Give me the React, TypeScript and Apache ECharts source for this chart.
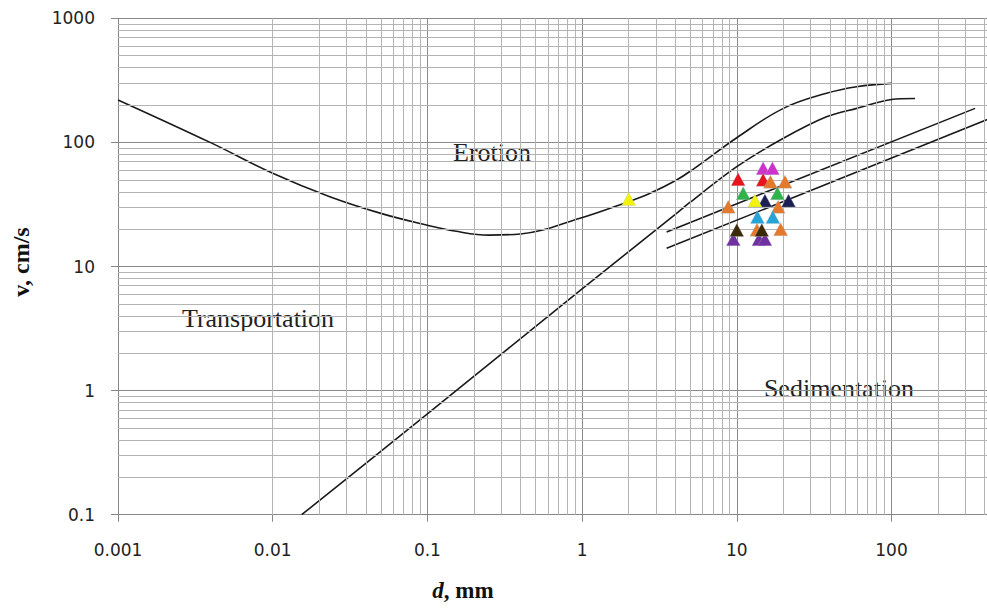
import React, { useEffect, useRef } from 'react';
import * as echarts from 'echarts';

// Erosion (upper Hjulström) curve
const erosionD = [0.001, 0.00394, 0.01, 0.0234, 0.05, 0.1, 0.15, 0.25, 0.4, 0.97, 1.99, 2.75, 4.08, 5.24, 10, 20, 38, 59.6, 100];
const erosionV = [220, 100, 56.4, 36.5, 26.8, 21.5, 19.3, 17.9, 18.3, 24.5, 33.3, 38.9, 49.8, 61, 109, 188, 249, 281, 299];

// Settling / deposition curve
const settleD = [0.0154, 0.1, 1, 4.08, 5.0, 10, 20, 38, 59.6, 100, 142];
const settleV = [0.1, 0.65, 6.6, 26.8, 33, 63.7, 108, 161, 188, 222, 226];

// Two straight band lines
const bandUpperD = [3.52, 347];
const bandUpperV = [19, 188];
const bandLowerD = [3.52, 520];
const bandLowerV = [14, 171];

// Measured samples (triangles), in drawing order
const sampleD = [14.8, 17.0, 9.5, 13.9, 15.2, 10.2, 14.8, 16.5, 20.5, 11, 18.3, 8.8, 18.5, 15.2, 21.6, 13.1, 13.6, 17.1, 13.5, 19.2, 10, 14.5, 2];
const sampleV = [62, 62, 16.6, 16.6, 16.6, 50.5, 50, 48.2, 48.2, 39, 39, 30.3, 30.3, 34, 34, 34, 25, 25, 19.8, 20, 19.7, 19.7, 35];
const sampleColor = [
  '#cc33cc', '#cc33cc',
  '#7030a0', '#7030a0', '#7030a0',
  '#e8141b', '#e8141b',
  '#e4782b', '#e4782b',
  '#2fb34a', '#2fb34a',
  '#e4782b', '#e4782b',
  '#1c1f52', '#1c1f52',
  '#f2f20a',
  '#26a4d8', '#26a4d8',
  '#e4782b', '#e4782b',
  '#3a2a08', '#3a2a08',
  '#f2f20a',
];

const xTickValues = [0.001, 0.01, 0.1, 1, 10, 100, 1000];
const xTickLabels = ['0.001', '0.01', '0.1', '1', '10', '100', ''];
const yTickValues = [0.1, 1, 10, 100, 1000];
const yTickLabels = ['0.1', '1', '10', '100', '1000'];
const regionLabels = ['Erotion', 'Transportation', 'Sedimentation'];

const labelFor = (values: number[], labels: string[]) => (v: number) => {
  const i = values.findIndex((t) => Math.abs(Math.log10(t) - Math.log10(v)) < 1e-6);
  return i >= 0 ? labels[i] : '';
};

function minorValues(ticks: number[]) {
  const out: number[] = [];
  for (let i = 0; i < ticks.length - 1; i++) {
    for (let m = 2; m <= 9; m++) out.push(parseFloat((ticks[i] * m).toPrecision(4)));
  }
  return out;
}

const zip = (a: number[], b: number[]) => a.map((v, i) => [v, b[i]]);

const CHART_W = 1100;

export default function App() {
  const ref = useRef<HTMLDivElement>(null);
  useEffect(() => {
    if (!ref.current) return;
    const chart = echarts.init(ref.current, undefined, { renderer: 'svg' });
    const axisColor = '#868686';
    const majorColor = '#8a8a8a';
    const minorColor = '#b4b4b4';
    const curveStyle = { color: '#1a1a1a', width: 1.6 };
    const serif = '"Liberation Serif", "Times New Roman", serif';
    const option: any = {
      animation: false,
      backgroundColor: '#ffffff',
      grid: { left: 118, top: 18.3, right: CHART_W - 1046.2, bottom: 95.3, containLabel: false, outerBoundsMode: 'none' },
      xAxis: {
        type: 'log',
        logBase: 10,
        min: xTickValues[0],
        max: xTickValues[xTickValues.length - 1],
        splitNumber: 6,
        axisLine: { show: true, onZero: false, lineStyle: { color: axisColor, width: 1 } },
        axisTick: { show: true, length: 7, lineStyle: { color: axisColor } },
        axisLabel: { margin: 27, fontFamily: 'DejaVu Sans', fontSize: 17, color: '#222', formatter: labelFor(xTickValues, xTickLabels) },
        splitLine: { show: true, lineStyle: { color: majorColor, width: 1 } },
      },
      yAxis: {
        type: 'log',
        logBase: 10,
        min: yTickValues[0],
        max: yTickValues[yTickValues.length - 1],
        splitNumber: 4,
        axisLine: { show: true, onZero: false, lineStyle: { color: axisColor, width: 1 } },
        axisTick: { show: true, length: 7, lineStyle: { color: axisColor } },
        axisLabel: { margin: 23, fontFamily: 'DejaVu Sans', fontSize: 17, color: '#222', formatter: labelFor(yTickValues, yTickLabels) },
        splitLine: { show: true, lineStyle: { color: majorColor, width: 1 } },
      },
      series: [
        {
          type: 'line',
          data: [],
          silent: true,
          z: 1,
          markLine: {
            silent: true,
            symbol: 'none',
            animation: false,
            label: { show: false },
            lineStyle: { color: minorColor, width: 1, type: 'solid' },
            emphasis: { disabled: true },
            data: [
              ...minorValues(xTickValues).map((x) => ({ xAxis: x })),
              ...minorValues(yTickValues).map((y) => ({ yAxis: y })),
            ],
          },
        },
        {
          type: 'line', name: 'Erosion', data: zip(erosionD, erosionV), smooth: 0.4,
          showSymbol: false, symbol: 'none', lineStyle: curveStyle, z: 3,
        },
        {
          type: 'line', name: 'Settling', data: zip(settleD, settleV), smooth: 0.3,
          showSymbol: false, symbol: 'none', lineStyle: curveStyle, z: 3,
        },
        {
          type: 'line', name: 'BandUpper', data: zip(bandUpperD, bandUpperV),
          showSymbol: false, symbol: 'none', lineStyle: curveStyle, z: 3,
        },
        {
          type: 'line', name: 'BandLower', data: zip(bandLowerD, bandLowerV),
          showSymbol: false, symbol: 'none', lineStyle: curveStyle, z: 3,
        },
        {
          type: 'scatter', name: 'Samples', symbol: 'triangle', symbolSize: [14, 13], z: 5,
          data: sampleD.map((d, i) => ({
            value: [d, sampleV[i]],
            itemStyle: { color: sampleColor[i], opacity: 1, borderColor: 'rgba(170,180,200,0.6)', borderWidth: 0.5 },
          })),
        },
      ],
      graphic: [
        {
          type: 'text', x: 21, y: 262, rotation: Math.PI / 2,
          style: { text: 'v, cm/s', fontFamily: serif, fontWeight: 'bold', fontSize: 24, fill: '#111', align: 'center', verticalAlign: 'middle' },
        },
        {
          type: 'text', x: 463, y: 590,
          style: {
            text: '{i|d}{b|, mm}', align: 'center', verticalAlign: 'middle',
            rich: {
              i: { fontFamily: serif, fontWeight: 'bold', fontStyle: 'italic', fontSize: 23, fill: '#111' },
              b: { fontFamily: serif, fontWeight: 'bold', fontSize: 23, fill: '#111' },
            },
          },
        },
        {
          type: 'text', x: 492, y: 152,
          style: { text: regionLabels[0], fontFamily: serif, fontSize: 26, fill: '#222', align: 'center', verticalAlign: 'middle' },
        },
        {
          type: 'text', x: 258, y: 318,
          style: { text: regionLabels[1], fontFamily: serif, fontSize: 26, fill: '#222', align: 'center', verticalAlign: 'middle' },
        },
        {
          type: 'text', x: 839, y: 388,
          style: { text: regionLabels[2], fontFamily: serif, fontSize: 26, fill: '#222', align: 'center', verticalAlign: 'middle' },
        },
      ],
    };
    chart.setOption(option);
    return () => chart.dispose();
  }, []);
  return (
    <div style={{ position: 'fixed', left: 0, top: 0, width: 987, height: 610, overflow: 'hidden', background: '#fff' }}>
      <div ref={ref} style={{ width: CHART_W, height: 610 }} />
    </div>
  );
}
